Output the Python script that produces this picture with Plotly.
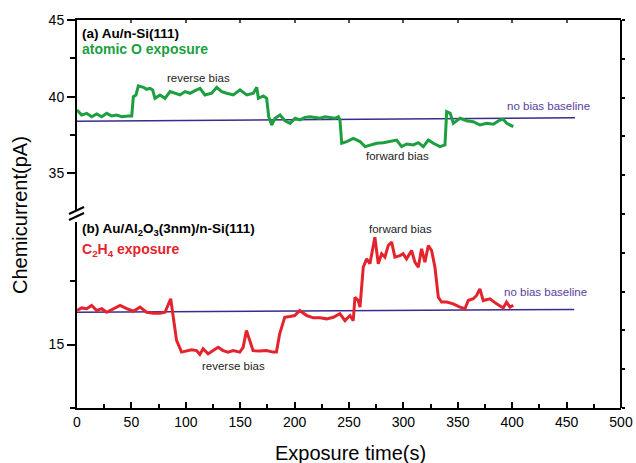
import plotly.graph_objects as go

# ---------------- data ----------------
green_t = [0.0, 4.3, 8.9, 13.5, 18.1, 22.7, 27.3, 31.9, 36.5, 41.1, 47.2, 50.3, 51.8, 54.2, 56.4,
           61.0, 64.0, 67.1, 69.5, 71.7, 76.3, 80.9, 85.5, 90.1, 94.7, 99.3, 103.9, 108.5, 113.1,
           117.6, 123.8, 128.4, 133.0, 137.6, 143.7, 149.8, 156.0, 162.1, 165.2, 166.7, 171.3,
           174.3, 176.2, 178.9, 182.0, 186.6, 191.2, 195.8, 200.4, 205.0, 209.6, 214.2, 218.8,
           223.3, 227.9, 232.5, 237.1, 240.2, 241.7, 243.3, 247.9, 254.0, 260.1, 264.7, 269.3,
           275.5, 281.6, 287.7, 293.8, 298.4, 303.0, 309.1, 313.7, 318.3, 322.9, 327.5, 333.6,
           338.2, 339.8, 343.0, 345.9, 352.0, 358.2, 364.2, 370.4, 376.6, 382.6, 388.8, 391.8,
           395.0, 401.0]
green_v = [39.13, 38.80, 38.91, 38.69, 38.87, 38.69, 38.91, 38.74, 38.80, 38.69, 38.74, 38.74,
           40.00, 40.11, 40.70, 40.61, 40.48, 40.54, 40.44, 39.89, 40.11, 39.89, 40.33, 40.22,
           40.11, 40.33, 40.22, 40.39, 40.54, 40.11, 40.22, 40.61, 40.33, 40.22, 40.11, 40.44,
           40.11, 40.22, 40.61, 39.89, 40.05, 39.89, 38.69, 38.15, 38.59, 38.80, 38.43, 38.26,
           38.59, 38.48, 38.65, 38.69, 38.65, 38.59, 38.69, 38.65, 38.59, 38.69, 38.48, 36.96,
           37.07, 37.28, 37.07, 36.74, 36.85, 36.96, 37.00, 37.07, 37.17, 36.74, 36.91, 36.85,
           37.00, 36.74, 37.17, 36.96, 36.74, 36.85, 39.02, 38.91, 38.26, 38.59, 38.43, 38.37,
           38.15, 38.26, 38.20, 38.48, 38.52, 38.26, 38.04]

red_t = [0.0, 4.3, 8.9, 13.5, 18.1, 22.7, 27.3, 33.5, 39.6, 45.7, 51.8, 57.9, 64.0, 70.1, 76.3,
         80.9, 83.9, 86.1, 88.5, 91.5, 96.1, 100.7, 105.3, 109.9, 112.9, 115.9, 120.5, 125.1,
         129.7, 134.3, 138.9, 143.5, 149.6, 152.7, 155.7, 158.8, 161.8, 168.0, 174.1, 180.2,
         183.3, 186.3, 190.9, 195.5, 200.1, 204.7, 211.1, 217.2, 223.3, 229.5, 235.6, 241.7,
         246.3, 250.9, 253.9, 255.5, 258.5, 260.1, 263.1, 266.2, 269.2, 273.8, 276.9, 280.0,
         283.0, 286.1, 289.2, 292.2, 296.8, 299.8, 302.9, 307.5, 310.6, 313.7, 316.7, 319.8,
         322.9, 325.9, 329.0, 332.1, 335.1, 339.7, 345.8, 352.0, 356.6, 359.6, 364.2, 367.3,
         370.3, 373.4, 379.5, 385.7, 391.8, 394.8, 397.9, 401.0]
red_v = [16.34, 16.44, 16.41, 16.54, 16.34, 16.41, 16.27, 16.41, 16.54, 16.41, 16.31, 16.47,
         16.27, 16.23, 16.23, 16.27, 16.54, 16.80, 16.07, 15.16, 14.70, 14.74, 14.79, 14.76,
         14.61, 14.83, 14.63, 14.76, 14.89, 14.76, 14.70, 14.76, 14.70, 14.89, 15.55, 15.16,
         14.76, 14.74, 14.76, 14.70, 14.70, 15.42, 16.07, 16.10, 16.14, 16.34, 16.14, 16.05,
         16.05, 16.01, 16.07, 16.21, 15.94, 16.14, 15.94, 16.86, 16.73, 16.47, 18.04, 18.37,
         18.18, 19.22, 18.18, 18.57, 18.44, 18.90, 19.03, 18.44, 18.50, 18.57, 18.37, 18.70,
         18.24, 18.04, 18.77, 18.24, 18.90, 18.70, 18.04, 16.86, 16.67, 16.67, 16.60, 16.47,
         16.41, 16.73, 16.80, 16.93, 17.19, 16.73, 16.80, 16.60, 16.44, 16.67, 16.47, 16.54]

base_top_t = [0, 457.7]
base_top_v = [38.40, 38.62]
base_bot_t = [0, 457.0]
base_bot_v = [16.27, 16.38]

x_ticks = [0, 50, 100, 150, 200, 250, 300, 350, 400, 450, 500]

# ---------------- styling ----------------
FONT = "Arial, Liberation Sans, sans-serif"
GREEN = "#1c9f3f"
RED = "#e3242d"
BASE = "#3a2b8c"
BASE_TXT = "#5a3e9e"

W, H = 636, 463
L, R, T, B = 77, 15, 20, 55
PW, PH = W - L - R, H - T - B
PLOT_BOTTOM = H - B  # page pixel of plot-area bottom


def px_x(px):
    return (px - L) / PW


def px_y(py):
    return (PLOT_BOTTOM - py) / PH


fig = go.Figure()

# top panel (a)
fig.add_trace(go.Scatter(x=base_top_t, y=base_top_v, mode="lines",
                         line=dict(color=BASE, width=1.6), xaxis="x2", yaxis="y2",
                         showlegend=False, hoverinfo="skip"))
fig.add_trace(go.Scatter(x=green_t, y=green_v, mode="lines",
                         line=dict(color=GREEN, width=3), xaxis="x2", yaxis="y2",
                         showlegend=False))
# bottom panel (b)
fig.add_trace(go.Scatter(x=base_bot_t, y=base_bot_v, mode="lines",
                         line=dict(color=BASE, width=1.6), xaxis="x", yaxis="y",
                         showlegend=False, hoverinfo="skip"))
fig.add_trace(go.Scatter(x=red_t, y=red_v, mode="lines",
                         line=dict(color=RED, width=3), xaxis="x", yaxis="y",
                         showlegend=False))
# dummy trace for right-side axis
fig.add_trace(go.Scatter(x=[None], y=[None], xaxis="x", yaxis="y3",
                         showlegend=False, hoverinfo="skip"))

top_dom0 = px_y(210)
bot_dom1 = px_y(222)

fig.update_layout(
    width=W, height=H, autosize=False,
    margin=dict(l=L, r=R, t=T, b=B),
    plot_bgcolor="rgba(0,0,0,0)", paper_bgcolor="white",
    font=dict(family=FONT, size=14, color="black"),
    xaxis=dict(domain=[0, 1], anchor="y", range=[0, 500], tickvals=x_ticks, automargin=False,
               showgrid=False, zeroline=False, showline=True, linecolor="black", linewidth=2,
               ticks="inside", ticklen=6, tickwidth=2, tickcolor="black",
               minor=dict(ticks="inside", ticklen=4, tickwidth=2, tickcolor="black", dtick=25, tick0=0),
               tickfont=dict(size=14)),
    xaxis2=dict(domain=[0, 1], anchor="y2", side="top", matches="x", range=[0, 500],
                tickvals=x_ticks, showticklabels=False, automargin=False,
                showgrid=False, zeroline=False, showline=True, linecolor="black", linewidth=2,
                ticks="inside", ticklen=3, tickwidth=1.5, tickcolor="#555"),
    yaxis=dict(domain=[0, bot_dom1], anchor="x", range=[12.5, 12.5 + (408 - 222) / 25.4],
               tickvals=[15], showgrid=False, zeroline=False, showline=True, automargin=False,
               linecolor="black", linewidth=2, ticks="outside", ticklen=8, tickwidth=2,
               tickcolor="black",
               minor=dict(ticks="outside", ticklen=5, tickwidth=2, tickcolor="black",
                          tickvals=[12.5, 17.5]),
               tickfont=dict(size=14)),
    yaxis2=dict(domain=[top_dom0, 1], anchor="x2", range=[45 - (210 - 20) / 15.33, 45],
                tickvals=[35, 40, 45], showgrid=False, zeroline=False, showline=True,
                automargin=False,
                linecolor="black", linewidth=2, ticks="outside", ticklen=8, tickwidth=2,
                tickcolor="black",
                minor=dict(ticks="outside", ticklen=5, tickwidth=2, tickcolor="black",
                           tickvals=[37.5, 42.5]),
                tickfont=dict(size=14)),
    yaxis3=dict(domain=[0, 1], anchor="free", position=1, side="right", automargin=False,
                range=[0, 10], dtick=1, showticklabels=False, showgrid=False, zeroline=False,
                showline=True, linecolor="black", linewidth=2, ticks="outside", ticklen=3,
                tickwidth=2, tickcolor="black"),
)

# axis break slashes
for dy in (0, 6):
    fig.add_shape(type="line", xref="paper", yref="paper",
                  x0=px_x(69), y0=px_y(214 + dy), x1=px_x(84), y1=px_y(207 + dy),
                  line=dict(color="black", width=2))

ann = []
# panel (a)
ann.append(dict(x=2.8, y=44.15, xref="x2", yref="y2", text="<b>(a) Au/n-Si(111)</b>",
                xanchor="left", showarrow=False, font=dict(size=13.5, color="black")))
ann.append(dict(x=2.8, y=43.1, xref="x2", yref="y2", text="<b>atomic O exposure</b>",
                xanchor="left", showarrow=False, font=dict(size=14, color=GREEN)))
ann.append(dict(x=112, y=41.2, xref="x2", yref="y2", text="reverse bias",
                showarrow=False, font=dict(size=11.5, color="#222")))
ann.append(dict(x=294.8, y=36.15, xref="x2", yref="y2", text="forward bias",
                showarrow=False, font=dict(size=11.5, color="#222")))
ann.append(dict(x=433, y=39.4, xref="x2", yref="y2", text="no bias baseline",
                showarrow=False, font=dict(size=11.5, color=BASE_TXT)))
# panel (b)
ann.append(dict(x=2.8, y=19.52, xref="x", yref="y",
                text="<b>(b) Au/Al<sub>2</sub>O<sub>3</sub>(3nm)/n-Si(111)</b>",
                xanchor="left", showarrow=False, font=dict(size=13.5, color="black")))
ann.append(dict(x=2.8, y=18.72, xref="x", yref="y",
                text="<b>C<sub>2</sub>H<sub>4</sub> exposure</b>",
                xanchor="left", showarrow=False, font=dict(size=14, color=RED)))
ann.append(dict(x=143.7, y=14.17, xref="x", yref="y", text="reverse bias",
                showarrow=False, font=dict(size=11.5, color="#222")))
ann.append(dict(x=296.9, y=19.53, xref="x", yref="y", text="forward bias",
                showarrow=False, font=dict(size=11.5, color="#222")))
ann.append(dict(x=430.8, y=17.06, xref="x", yref="y", text="no bias baseline",
                showarrow=False, font=dict(size=11.5, color=BASE_TXT)))
# axis titles
ann.append(dict(x=px_x(350), y=px_y(453), xref="paper", yref="paper",
                xanchor="center", yanchor="middle",
                text="Exposure time(s)", showarrow=False, font=dict(size=20)))
ann.append(dict(x=px_x(20), y=px_y(215), xref="paper", yref="paper",
                xanchor="center", yanchor="middle",
                text="Chemicurrent(pA)", textangle=-90, showarrow=False, font=dict(size=20)))

fig.update_layout(annotations=ann)

# remove the default page margin / scrollbars so the figure sits at the window's top-left corner
fig.write_html(
    "out.html",
    config={"displayModeBar": False, "responsive": False},
    post_script="document.body.style.margin='0px';document.body.style.overflow='hidden';",
)
